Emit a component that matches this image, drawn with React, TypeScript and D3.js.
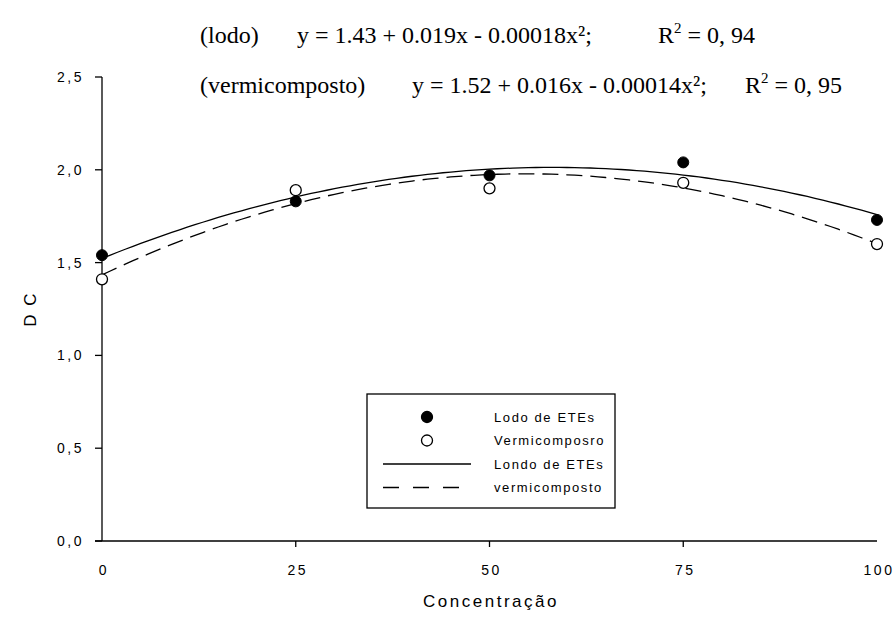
import React, {useRef, useEffect} from 'react';
import * as d3 from 'd3';

// concentração (%)
const concentrations = [0, 25, 50, 75, 100];
// Lodo de ETEs (pontos cheios)
const lodoValues = [1.54, 1.83, 1.97, 2.04, 1.73];
// Vermicomposto (pontos vazios)
const vermiValues = [1.41, 1.89, 1.90, 1.93, 1.60];

const xTicks = [0, 25, 50, 75, 100];
const yTicks = [0, 0.5, 1.0, 1.5, 2.0, 2.5];

const equationLines = [
    {label: '(lodo)', eq: 'y = 1.43 + 0.019x - 0.00018x²;', r2: '0, 94'},
    {label: '(vermicomposto)', eq: 'y = 1.52 + 0.016x - 0.00014x²;', r2: '0, 95'},
];

const legendItems = [
    {kind: 'filled', text: 'Lodo de ETEs'},
    {kind: 'open', text: 'Vermicomposro'},
    {kind: 'solid', text: 'Londo de ETEs'},
    {kind: 'dashed', text: 'vermicomposto'},
];

// ajuste quadrático por mínimos quadrados
function quadFit(xs: number[], ys: number[]) {
    const s = [0, 0, 0, 0, 0];
    const t = [0, 0, 0];
    xs.forEach((x, i) => {
        for (let k = 0; k < 5; k++) s[k] += Math.pow(x, k);
        for (let k = 0; k < 3; k++) t[k] += Math.pow(x, k) * ys[i];
    });
    const m = [
        [s[0], s[1], s[2], t[0]],
        [s[1], s[2], s[3], t[1]],
        [s[2], s[3], s[4], t[2]],
    ];
    for (let c = 0; c < 3; c++) {
        for (let r = c + 1; r < 3; r++) {
            const f = m[r][c] / m[c][c];
            for (let k = c; k < 4; k++) m[r][k] -= f * m[c][k];
        }
    }
    const coef = [0, 0, 0];
    for (let r = 2; r >= 0; r--) {
        let v = m[r][3];
        for (let k = r + 1; k < 3; k++) v -= m[r][k] * coef[k];
        coef[r] = v / m[r][r];
    }
    return (x: number) => coef[0] + coef[1] * x + coef[2] * x * x;
}

const W = 895;
const H = 637;
const left = 102, right = 877, top = 77, bottom = 541;

const App: React.FC = () => {
    const svgRef = useRef<SVGSVGElement>(null);

    useEffect(() => {
        if (!svgRef.current) return;
        const svg = d3.select(svgRef.current);
        svg.selectAll('*').remove();

        const x = d3.scaleLinear().domain([0, 100]).range([left, right]);
        const y = d3.scaleLinear().domain([0, 2.5]).range([bottom, top]);

        const sans = 'Arial, "Liberation Sans", Helvetica, sans-serif';
        const serif = '"Times New Roman", "Liberation Serif", serif';

        // equações
        equationLines.forEach((l, i) => {
            const yy = 43 + i * 50;
            const g = svg.append('text')
                .attr('y', yy)
                .style('font-family', serif)
                .style('font-size', '24px')
                .attr('fill', '#000');
            g.append('tspan').attr('x', 200).text(l.label);
            g.append('tspan').attr('x', i === 0 ? 297 : 412).text(l.eq);
            const rx = i === 0 ? 658 : 745;
            g.append('tspan').attr('x', rx).text('R');
            g.append('tspan').attr('dy', -10).style('font-size', '15px').text('2');
            g.append('tspan').attr('dy', 10).text(' = ' + l.r2);
        });

        // eixos
        svg.append('line')
            .attr('x1', left).attr('x2', left)
            .attr('y1', y(2.5)).attr('y2', y(0))
            .attr('stroke', '#000').attr('stroke-width', 1.3);
        svg.append('line')
            .attr('x1', left - 7).attr('x2', right)
            .attr('y1', y(0)).attr('y2', y(0))
            .attr('stroke', '#000').attr('stroke-width', 1.3);

        yTicks.forEach(t => {
            svg.append('line')
                .attr('x1', left - 7).attr('x2', left)
                .attr('y1', y(t)).attr('y2', y(t))
                .attr('stroke', '#000').attr('stroke-width', 1.3);
            svg.append('text')
                .attr('x', 84).attr('y', y(t))
                .attr('dy', '0.35em')
                .attr('text-anchor', 'end')
                .style('font-family', sans)
                .style('font-size', '14px')
                .style('letter-spacing', '2.5px')
                .text(d3.format('.1f')(t).replace('.', ','));
        });

        xTicks.forEach(t => {
            if (t !== 0 && t !== 100) {
                svg.append('line')
                    .attr('x1', x(t)).attr('x2', x(t))
                    .attr('y1', y(0)).attr('y2', y(0) + 6)
                    .attr('stroke', '#000').attr('stroke-width', 1.3);
            }
            svg.append('text')
                .attr('x', x(t) + 2).attr('y', 575)
                .attr('text-anchor', 'middle')
                .style('font-family', sans)
                .style('font-size', '14px')
                .style('letter-spacing', '2.5px')
                .text(String(t));
        });

        svg.append('text')
            .attr('x', 491).attr('y', 607)
            .attr('text-anchor', 'middle')
            .style('font-family', sans)
            .style('font-size', '17px')
            .style('letter-spacing', '2.5px')
            .text('Concentração');

        svg.append('text')
            .attr('transform', `translate(36,${(top + bottom) / 2}) rotate(-90)`)
            .attr('text-anchor', 'middle')
            .style('font-family', sans)
            .style('font-size', '17px')
            .style('letter-spacing', '2px')
            .text('D C');

        // curvas ajustadas
        const fitL = quadFit(concentrations, lodoValues);
        const fitV = quadFit(concentrations, vermiValues);
        const xs = d3.range(0, 100.5, 1);
        const line = d3.line<number>().x(d => x(d[0])).y(d => y(d[1])) as any;

        svg.append('path')
            .attr('d', line(xs.map(v => [v, fitL(v)])))
            .attr('fill', 'none').attr('stroke', '#000').attr('stroke-width', 1.3);
        svg.append('path')
            .attr('d', line(xs.map(v => [v, fitV(v)])))
            .attr('fill', 'none').attr('stroke', '#000').attr('stroke-width', 1.3)
            .attr('stroke-dasharray', '16,8');

        // pontos
        concentrations.forEach((c, i) => {
            svg.append('circle')
                .attr('cx', x(c)).attr('cy', y(lodoValues[i])).attr('r', 5.5)
                .attr('fill', '#000').attr('stroke', '#000');
            svg.append('circle')
                .attr('cx', x(c)).attr('cy', y(vermiValues[i])).attr('r', 5.5)
                .attr('fill', '#fff').attr('stroke', '#000').attr('stroke-width', 1.3);
        });

        // legenda
        const lg = svg.append('g');
        lg.append('rect')
            .attr('x', 367).attr('y', 394).attr('width', 248).attr('height', 114)
            .attr('fill', '#fff').attr('stroke', '#000').attr('stroke-width', 1.3);
        legendItems.forEach((it, i) => {
            const yy = 417 + i * 23.5;
            if (it.kind === 'filled' || it.kind === 'open') {
                lg.append('circle')
                    .attr('cx', 427).attr('cy', yy).attr('r', 5.5)
                    .attr('fill', it.kind === 'filled' ? '#000' : '#fff')
                    .attr('stroke', '#000').attr('stroke-width', 1.3);
            } else {
                lg.append('line')
                    .attr('x1', 383).attr('x2', 471)
                    .attr('y1', yy).attr('y2', yy)
                    .attr('stroke', '#000').attr('stroke-width', 1.3)
                    .attr('stroke-dasharray', it.kind === 'dashed' ? '16,14' : null);
            }
            lg.append('text')
                .attr('x', 494).attr('y', yy).attr('dy', '0.35em')
                .style('font-family', sans)
                .style('font-size', '13px')
                .style('letter-spacing', '1.6px')
                .text(it.text);
        });
    }, []);

    return (
        <svg ref={svgRef} width={W} height={H} viewBox={`0 0 ${W} ${H}`}
             style={{position: 'absolute', left: 0, top: 0, background: '#fff'}}/>
    );
};

export default App;
